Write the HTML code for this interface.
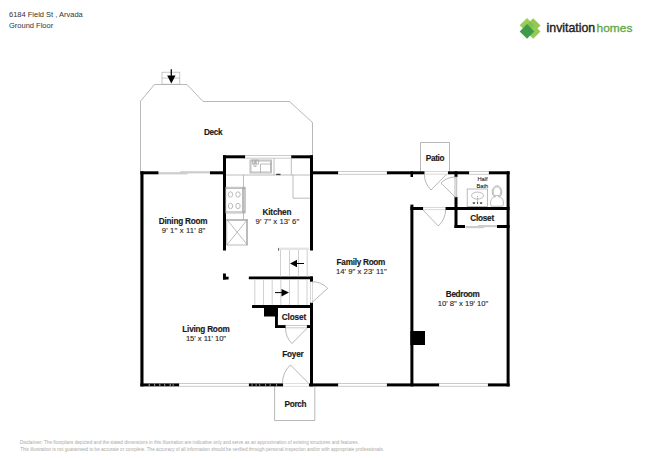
<!DOCTYPE html>
<html><head><meta charset="utf-8">
<style>
html,body{margin:0;padding:0;background:#fff;width:650px;height:460px;overflow:hidden}
svg{display:block}
text{font-family:"Liberation Sans",sans-serif}
.lb{font-weight:bold;font-size:8.2px;fill:#1a1a1a;stroke:#1a1a1a;stroke-width:0.15;text-anchor:middle}
.dm{font-size:7.7px;fill:#262626;stroke:#262626;stroke-width:0.12;text-anchor:middle}
.th{fill:none;stroke:#9a9a9a;stroke-width:0.7}
.gl{fill:none;stroke:#a5a5a5;stroke-width:0.75}
</style></head>
<body>
<svg width="650" height="460" viewBox="0 0 650 460">
<!-- header -->
<text x="9" y="17.2" style="font-size:7.5px;fill:#333">6184 Field St , Arvada</text>
<text x="9" y="28" style="font-size:7.5px;fill:#333">Ground Floor</text>

<!-- logo -->
<g>
  <polygon points="527,18.00 534.30,25.3 527,32.60 519.70,25.3" fill="#9ccd5a"/>
  <polygon points="533.2,18.20 540.50,25.5 533.2,32.80 525.90,25.5" fill="#93c853"/>
  <polygon points="533.2,24.20 540.50,31.5 533.2,38.80 525.90,31.5" fill="#95c955"/>
  <polygon points="530.1,21.20 534.30,25.4 530.1,29.60 525.90,25.4" fill="#86bf4e"/>
  <polygon points="527,24.10 534.30,31.4 527,38.70 519.70,31.4" fill="#3d9c4a"/>
</g>
<text x="546.6" y="31.6" textLength="48.6" lengthAdjust="spacingAndGlyphs" style="font-size:12.2px;fill:#231f20;stroke:#231f20;stroke-width:0.4">invitation</text>
<text x="596.6" y="31.7" textLength="35.8" lengthAdjust="spacingAndGlyphs" style="font-size:11.2px;fill:#62ab4a;stroke:#62ab4a;stroke-width:0.35">homes</text>

<!-- deck outline -->
<polyline class="th" points="140.5,171.5 140.5,101.2 154.5,84.5 187,84.5 203,101.5 289.5,101.5 312.5,122.5 312.5,155.5"/>
<!-- chimney/stairs box -->
<g fill="none" stroke="#b0b0b0" stroke-width="0.7">
<rect x="162" y="72.2" width="17.8" height="12"/>
<line x1="162" y1="78.1" x2="179.8" y2="78.1"/>
</g>
<line x1="171.3" y1="69.2" x2="171.3" y2="77" stroke="#000" stroke-width="1.25"/>
<polygon points="167.2,75.6 175.5,75.6 171.3,83.6" fill="#000"/>

<!-- porch / patio outlines -->
<polyline class="th" points="274.6,386.3 274.6,420.5 314.8,420.5 314.8,386.3"/>
<polyline class="th" points="420.5,171.3 420.5,142.5 449.5,142.5 449.5,171.3"/>

<!-- windows (double lines) -->
<g fill="#fff" stroke="#a8a8a8" stroke-width="0.6">
  <rect x="245" y="155.6" width="46.3" height="2.5"/>
  <rect x="338" y="171.6" width="49" height="2.6"/>
  <rect x="469" y="171.6" width="20" height="2.6"/>
  <rect x="179" y="383.6" width="70" height="2.6"/>
  <rect x="338" y="383.6" width="49" height="2.6"/>
  <rect x="439" y="383.6" width="49" height="2.6"/>
  <rect x="285.5" y="325.3" width="21.5" height="2.6"/>
  <rect x="283" y="383.6" width="26" height="2.6" stroke="#c8c8c8"/>
</g>
<g fill="#fff" stroke="#c0c0c0" stroke-width="0.6">
  <rect x="424.4" y="171.7" width="23.6" height="2.4"/>
  <rect x="423" y="207.4" width="22.6" height="2.4"/>
  <rect x="310.4" y="281.7" width="2.3" height="21.2"/>
</g>
<!-- sliding doors (filled gray) -->
<g fill="#cdcdcd">
<rect x="159" y="172.2" width="28.5" height="2.2"/>
<rect x="180" y="171.2" width="30" height="2.2"/>
<rect x="465.5" y="226" width="18.5" height="2.2"/>
<rect x="478" y="225" width="19" height="2.2"/>
</g>

<!-- walls -->
<g fill="#000">
  <rect x="140.4" y="171.3" width="3.1" height="215.1"/>
  <rect x="140.4" y="171.3" width="18.1" height="3"/>
  <rect x="210" y="171.3" width="16" height="3"/>
  <rect x="223" y="155.3" width="3" height="95.2"/>
  <rect x="223" y="155.3" width="22" height="3"/>
  <rect x="291.3" y="155.3" width="21.7" height="3"/>
  <rect x="310" y="155.3" width="3" height="95.2"/>
  <rect x="310" y="171.3" width="28" height="3"/>
  <rect x="387" y="171.3" width="37.4" height="3"/>
  <rect x="410.5" y="171.3" width="2.5" height="5.7"/>
  <rect x="448" y="171.3" width="21" height="3"/>
  <rect x="489" y="171.3" width="20.6" height="3"/>
  <rect x="506.6" y="171.3" width="3" height="215.1"/>
  <rect x="454.5" y="171.3" width="3" height="5.7"/>
  <rect x="454.5" y="197" width="3" height="31"/>
  <rect x="410.4" y="204.6" width="3" height="181.8"/>
  <rect x="410.4" y="207" width="12.6" height="3"/>
  <rect x="445.6" y="207" width="64" height="3"/>
  <rect x="454.5" y="225" width="10.5" height="3"/>
  <rect x="497" y="225" width="12.6" height="3"/>
  <rect x="410.4" y="331" width="14.6" height="14"/>
  <!-- bottom wall -->
  <rect x="140.4" y="383.4" width="38.6" height="3"/>
  <rect x="249" y="383.4" width="34" height="3"/>
  <rect x="309" y="383.4" width="29" height="3"/>
  <rect x="387" y="383.4" width="52" height="3"/>
  <rect x="488" y="383.4" width="21.6" height="3"/>
  <!-- foyer right wall -->
  <rect x="310" y="302.9" width="3" height="83.5"/>
  <rect x="310" y="276.5" width="3" height="5.2"/>
  <!-- stairs walls -->
  <rect x="248.8" y="276.5" width="64.2" height="2.8" rx="0.6"/>
  <rect x="252" y="305.1" width="61" height="2.9" rx="0.6"/>
  <rect x="264" y="307.8" width="14" height="8.7"/>
  <rect x="275" y="307.8" width="2.9" height="20.2"/>
  <rect x="275" y="325.1" width="10.5" height="2.9"/>
  <rect x="307" y="325.1" width="6" height="2.9"/>
  <!-- small L -->
  <rect x="223" y="273.5" width="2.9" height="6"/>
  <rect x="223" y="276.7" width="5.6" height="2.8"/>
  <rect x="278" y="248" width="1" height="2.5"/>
  <rect x="276.2" y="173.8" width="4.3" height="1.3"/>
</g>

<!-- watermark gaps -->
<g fill="#fff" opacity="0.55">
  <rect x="148.6" y="383.8" width="1.3" height="2.2"/>
  <rect x="154" y="383.8" width="1.1" height="2.2"/>
  <rect x="159.2" y="383.8" width="1.2" height="2.2"/>
  <rect x="164.1" y="383.8" width="1.1" height="2.2"/>
  <rect x="169.6" y="383.8" width="1.3" height="2.2"/>
  <rect x="172.6" y="383.8" width="1" height="2.2"/>
  <rect x="251.6" y="383.8" width="1" height="2.2"/>
  <rect x="255.6" y="383.8" width="1" height="2.2"/>
  <rect x="259.2" y="383.8" width="1" height="2.2"/>
  <rect x="265.1" y="383.8" width="1" height="2.2"/>
  <rect x="269.6" y="383.8" width="1" height="2.2"/>
  <rect x="276.1" y="383.8" width="1" height="2.2"/>
</g>

<!-- stairs treads -->
<g stroke="#c4c4c4" stroke-width="0.8">
  <line x1="278.5" y1="248.8" x2="309" y2="248.8" stroke-width="2.4" stroke="#e4e4e4"/>
  <line x1="280.5" y1="250" x2="280.5" y2="276.5"/>
  <line x1="289.5" y1="250" x2="289.5" y2="276.5"/>
  <line x1="298.5" y1="250" x2="298.5" y2="276.5"/>
  <line x1="307.2" y1="250" x2="307.2" y2="276.5"/>
  <line x1="254.8" y1="279.3" x2="254.8" y2="305.1"/>
  <line x1="263.5" y1="279.3" x2="263.5" y2="305.1"/>
  <line x1="272.2" y1="279.3" x2="272.2" y2="305.1"/>
  <line x1="280.8" y1="279.3" x2="280.8" y2="305.1"/>
  <line x1="289.5" y1="279.3" x2="289.5" y2="305.1"/>
  <line x1="298.2" y1="279.3" x2="298.2" y2="305.1"/>
  <line x1="307" y1="279.3" x2="307" y2="305.1"/>
  
</g>
<!-- stair arrows -->
<line x1="295" y1="263.5" x2="304" y2="263.5" stroke="#000" stroke-width="1"/>
<polygon points="290,263.5 297,259.8 297,267.2" fill="#000"/>
<line x1="275" y1="292.6" x2="283" y2="292.6" stroke="#000" stroke-width="1"/>
<polygon points="289,292.6 281.5,289 281.5,296.4" fill="#000"/>

<!-- doors -->
<g class="th">
  <!-- stair door -->
  <path d="M311.6,281.7 A21.5,21.5 0 0 1 327.7,288.3 L311.6,302.9"/>
  <!-- closet door (foyer) -->
  <path d="M285.5,328 A21.5,21.5 0 0 0 292,343.5 L307,328.3"/>
  <!-- entry door -->
  <path d="M282.4,383.3 A26,26 0 0 1 290.4,364.9 L308.7,383.3"/>
  <!-- patio door -->
  <path d="M424.4,174.4 A22,22 0 0 0 431,190 L446.4,174.4"/>
  <!-- half bath door -->
  <path d="M455,177 A20,20 0 0 0 441,183 L455,197"/>
  <rect x="455" y="177" width="1.8" height="20"/>
  <!-- bedroom door -->
  <path d="M445.6,210 A22.4,22.4 0 0 1 438.3,226 L423,210"/>
</g>

<!-- kitchen fixtures -->
<g class="gl">
  <line x1="226" y1="175" x2="310" y2="175"/>
  <line x1="274" y1="158.3" x2="274" y2="175"/>
  <line x1="291.3" y1="158.3" x2="291.3" y2="175"/>
  <polyline points="293,175 293,198.2 310,198.2"/>
  <line x1="243.5" y1="175" x2="243.5" y2="219.5"/>
  <rect x="250" y="160" width="21.5" height="13"/>
  <rect x="251" y="161" width="19.5" height="11"/>
  <polyline points="260.5,173 260.5,164 271.5,164"/>
  <rect x="252.5" y="160" width="2.5" height="4"/>
  <rect x="256" y="160" width="2.5" height="4"/>
  <rect x="254" y="162" width="2" height="4.5"/>
  <rect x="225.8" y="187.2" width="19.2" height="25.8"/>
  <line x1="225.8" y1="188.5" x2="245" y2="188.5"/>
  <line x1="225.8" y1="211.8" x2="245" y2="211.8"/>
  <rect x="242.6" y="188" width="2.4" height="24.2"/>
  <ellipse cx="230.5" cy="194.5" rx="2.2" ry="2.7"/>
  <ellipse cx="238" cy="194.5" rx="2.2" ry="2.7"/>
  <ellipse cx="230.5" cy="206" rx="2.2" ry="2.7"/>
  <ellipse cx="238" cy="206" rx="2.2" ry="2.7"/>
  <rect x="226.8" y="219.5" width="20.7" height="25.5"/>
  <line x1="226.8" y1="220.5" x2="247.5" y2="220.5"/>
  <line x1="226.8" y1="219.5" x2="247.5" y2="245"/>
  <line x1="247.5" y1="219.5" x2="226.8" y2="245"/>
  <line x1="246.5" y1="220" x2="246.5" y2="245"/>
</g>

<!-- half bath fixtures -->
<g class="gl">
  <rect x="467.2" y="189" width="20.3" height="17.5"/>
  <ellipse cx="477.5" cy="195.6" rx="6" ry="3.5"/>
  <ellipse cx="497" cy="191.8" rx="4.8" ry="6"/>
  <ellipse cx="497" cy="191.8" rx="3.8" ry="5"/>
  <path d="M491.2,206.2 C490,204 490.4,199.5 492.5,197.8 C493.5,197 494.5,196.9 495.3,196.9 L495.3,195.6 L498.7,195.6 L498.7,196.9 C499.5,196.9 500.5,197 501.5,197.8 C503.6,199.5 504,204 502.8,206.2 Z" fill="#fff"/>
</g>
<g fill="#000">
  <line x1="477.5" y1="196" x2="477.5" y2="203.5" stroke="#444" stroke-width="0.5" stroke-dasharray="1,0.8"/>
  <path d="M472.6,202.4 a1.3,1.3 0 0 0 2.6,0 Z"/>
  <path d="M479.8,202.4 a1.3,1.3 0 0 0 2.6,0 Z"/>
  <ellipse cx="477.5" cy="203" rx="0.7" ry="0.8"/>
</g>

<!-- labels -->
<text class="lb" x="213.2" y="135.4" textLength="18.6" lengthAdjust="spacing">Deck</text>
<text class="lb" x="183.2" y="224.3" textLength="48.8" lengthAdjust="spacing">Dining Room</text>
<text class="dm" x="183.5" y="233.1" textLength="43.6" lengthAdjust="spacing">9' 1" x 11' 8"</text>
<text class="lb" x="277" y="215" textLength="28.8" lengthAdjust="spacing">Kitchen</text>
<text class="dm" x="277.4" y="224" textLength="43.6" lengthAdjust="spacing">9' 7" x 13' 6"</text>
<text class="lb" x="206" y="332.3" textLength="47.4" lengthAdjust="spacing">Living Room</text>
<text class="dm" x="206" y="341.1" textLength="40.2" lengthAdjust="spacing">15' x 11' 10"</text>
<text class="lb" x="294" y="319.8" textLength="24.4" lengthAdjust="spacing">Closet</text>
<text class="lb" x="293" y="357" textLength="21.4" lengthAdjust="spacing">Foyer</text>
<text class="lb" x="295.6" y="407.2" textLength="22.0" lengthAdjust="spacing">Porch</text>
<text class="lb" x="361" y="264.9" textLength="48.8" lengthAdjust="spacing">Family Room</text>
<text class="dm" x="361.3" y="273.6" textLength="50.8" lengthAdjust="spacing">14' 9" x 23' 11"</text>
<text class="lb" x="435.2" y="160.6" textLength="18.8" lengthAdjust="spacing">Patio</text>
<text class="lb" x="482.2" y="221" textLength="24" lengthAdjust="spacing">Closet</text>
<text class="lb" x="462.8" y="297.1" textLength="34.0" lengthAdjust="spacing">Bedroom</text>
<text class="dm" x="463" y="306" textLength="50.6" lengthAdjust="spacing">10' 8" x 19' 10"</text>
<text x="482.5" y="181.2" style="font-size:5.7px;fill:#1e1e1e;stroke:#1e1e1e;stroke-width:0.1;text-anchor:middle">Half</text>
<text x="482.4" y="187.6" style="font-size:5.7px;fill:#1e1e1e;stroke:#1e1e1e;stroke-width:0.1;text-anchor:middle">Bath</text>

<!-- disclaimer -->
<text x="19.8" y="443.6" textLength="339" lengthAdjust="spacingAndGlyphs" style="font-size:4.75px;fill:#a9a9a9">Disclaimer: The floorplans depicted and the stated dimensions in this illustration are indicative only and serve as an approximation of existing structures and features.</text>
<text x="20.2" y="450.9" textLength="364" lengthAdjust="spacingAndGlyphs" style="font-size:4.75px;fill:#a9a9a9">This illustration is not guaranteed to be accurate or complete. The accuracy of all information should be verified through personal inspection and/or with appropriate professionals.</text>
</svg>
</body></html>
